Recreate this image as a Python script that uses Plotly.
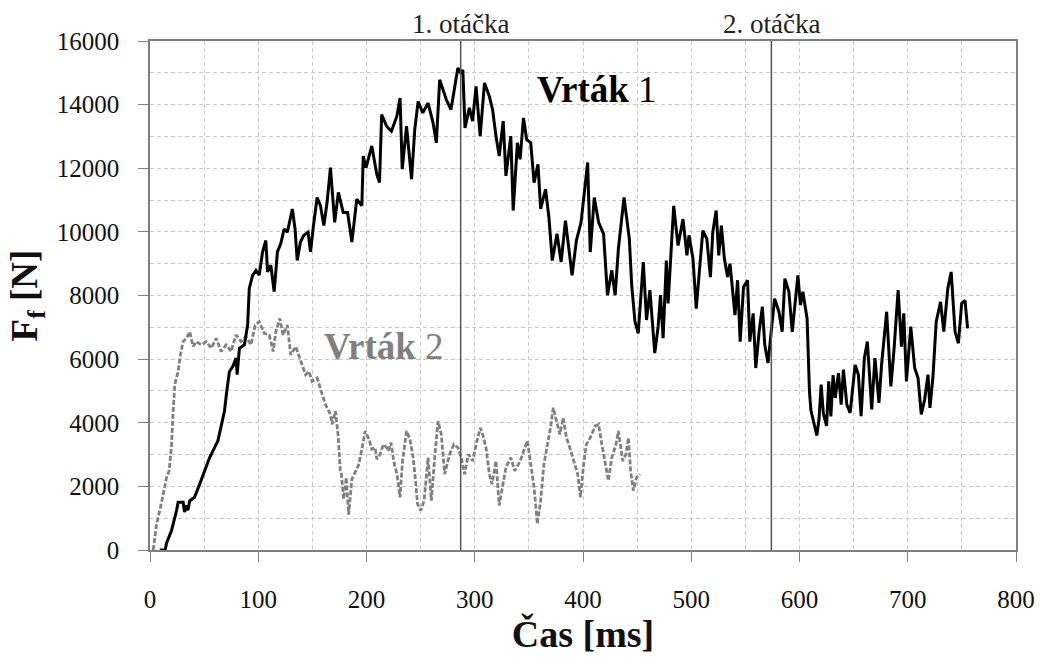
import plotly.graph_objects as go

# ---- data ----
t1 = [9, 14, 15.3, 19.9, 24.5, 26, 30.6, 32, 33.5, 35, 36.7, 41, 45.9, 50.5, 55, 59.6, 62.7, 65.8, 68.8, 70.9,
      73.4, 76.5, 79.5, 80.5, 82.6, 87.2, 90.2, 91.7, 94.8, 97.9, 100.9, 104, 107, 108.6, 111.6, 114.7, 117.7,
      120.8, 123.9, 126.9, 131.5, 134, 136, 139, 142, 146, 148.3, 151, 154.4, 157.5, 160.6, 163.6, 166.7,
      170.6, 174, 178.5, 182.5, 186.5, 191, 195.7, 197, 199.6, 204.9, 209.5, 212, 214, 218.6, 223, 228, 231,
      233, 237, 241.6, 244.6, 247.7, 252, 256.9, 261.5, 264.5, 267.6, 273.7, 278, 281.4, 284.4, 287, 289,
      291, 295, 298, 301.2, 305, 309, 313.5, 316.5, 319.6, 322.6, 326.3, 328.8, 333.3, 335.5, 339.4, 341.9,
      345, 348, 351.7, 354.8, 358.4, 360.9, 365.4, 368.5, 371.6, 376, 379.8, 383.8, 389.9, 393.9, 398.2,
      400.6, 404.3, 406.7, 410.4, 414.4, 419, 422.6, 426.6, 429.7, 432.7, 437.9, 442.8, 445, 448, 451, 453.2,
      455.7, 458.7, 461.8, 466.3, 469.4, 471.6, 474, 477, 478.6, 483.8, 487.8, 492.4, 496, 497.9, 501.6,
      504.6, 507.6, 510.7, 514.4, 517.7, 519.9, 523, 525.4, 527.8, 530.6, 533.6, 535.8, 538.2, 540.4, 542.8,
      545.2, 548.3, 552, 554.1, 557.2, 559.6, 562.7, 565.7, 567.9, 570.9, 573.4, 577, 581, 584, 586.5, 590.2,
      593.3, 598.5, 600.9, 603.1, 607, 609.2, 610.5, 613, 616, 618, 620, 622, 625, 627, 629, 631, 633, 636,
      638.5, 640.6, 643.7, 646.8, 651.4, 654.4, 656.9, 659.9, 662.7, 666.7, 669.7, 673.4, 675.8, 680.5, 684.4,
      687.4, 691.1, 694.2, 696.3, 698.8, 702.8, 706.4, 709.5, 712.5, 715.6, 718.7, 720.5, 723.2, 726.3, 730.3,
      733.3, 737, 740.1, 743.7, 746.8, 749.8, 752.9, 755.3]
f1 = [0, 0, 220, 615, 1240, 1500, 1500, 1190, 1400, 1250, 1550, 1650, 2070, 2490, 2900, 3220, 3430, 3900, 4370, 4990,
      5610, 5770, 6030, 5510, 6340, 6450, 7070, 8220, 8630, 8790, 8640, 9370, 9730, 8740, 8950, 8120, 9370,
      9630, 10090, 9990, 10720, 10090, 9100, 9680, 9890, 9990, 9370, 10200, 11080, 10820, 10200, 10930, 12020,
      10300, 11240, 10610, 10610, 9680, 11030, 10820, 12385, 12020, 12700, 11810, 11550, 13690, 13320, 13165, 13630, 14210,
      11970, 13320, 11656, 13220, 14100, 13740, 14050, 13430, 12800, 14780, 14160, 13840, 14470, 15150, 15000, 15090,
      13270, 13900, 13480, 14570, 13010, 14680, 14260, 13840, 13010, 12385, 13480, 11760, 13010, 10670, 12800, 12280,
      13580, 12900, 12800, 11550, 12125, 10720, 11340, 10460, 9100, 9940, 9050, 10350, 8635, 9730, 10300,
      10980, 12180, 9365, 11080, 10300, 9940, 8010, 8790, 8010, 9470, 11080, 9780, 8320, 7180, 6810, 8010,
      9050, 7230, 8170, 6190, 7020, 8010, 6660, 9100, 7750, 10820, 9570, 10400, 9260, 9890, 9160,
      7590, 8840, 10040, 9780, 8580, 9990, 10670, 9260, 10200, 9160, 8580, 9000, 8115, 7385, 8480,
      6550, 8270, 8480, 6550, 7440, 5720, 6865, 7645, 6450, 5875, 6760, 7900, 7490, 6860, 8530, 8115,
      6860, 8635, 7700, 8115, 7280, 4990, 4400, 4000, 3600, 4100, 5200, 4300, 3900, 5300, 4200, 5500, 4780, 5560,
      4570, 5670, 4570, 4310, 5820, 5510, 4210, 6030, 6550, 4420, 6030, 4625, 5820, 7490, 5145,
      6340, 8170, 6395, 7440, 5300, 7020, 5720, 5405, 4260, 4730, 5510, 4470, 5405, 7180, 7800,
      6865, 8220, 8740, 6865, 6500, 7750, 7850, 6970]

t2 = [3, 6.1, 10.7, 15.3, 17.7, 19.9, 21.4, 22.9, 26, 28.1, 30.6, 33.6, 36.7, 39.8, 42.8, 47.4, 52, 56.6, 61.2,
      65.7, 70.3, 74.9, 79.5, 84.1, 88.7, 93.3, 97.2, 100.9, 105.5, 110.1, 113.8, 116.2, 119.9, 122.9, 126.9,
      130, 134.6, 139.1, 143.7, 146.8, 149.8, 154.4, 156, 159, 162.1, 166.7, 168.2, 171.3, 173.7, 175.8, 176.8,
      178.9, 181.3, 183.5, 186.5, 189.6, 192.7, 195.7, 198.8, 202.4, 204.9, 208, 209.5, 212.5, 214, 215.6,
      218.6, 220.2, 222.6, 225.7, 228.2, 230.9, 233.3, 237, 240.1, 243.1, 245.3, 247.1, 250.2, 253.2, 256.9,
      259.9, 263, 266.1, 269.1, 272.2, 276.8, 280.7, 284.4, 287.5, 290.6, 294.2, 298.2, 301.2, 305.2, 307.3,
      310.4, 313.5, 315.9, 319.6, 322.6, 325.7, 328.8, 333.3, 337, 342, 345.6, 348.6, 351.7, 354.8, 357.8,
      360.9, 363.9, 367.6, 370, 372.5, 375.5, 378.6, 381.7, 384.7, 387.8, 391.5, 395.1, 397.6, 400.6, 403.1,
      406.7, 411.3, 414.4, 417.4, 420.5, 423.5, 426.6, 430.5, 432.7, 436.7, 439.7, 441.9, 444, 446.5, 449.5,
      452.6]
f2 = [0, 820, 1500, 2280, 2490, 3320, 4365, 5200, 5615, 6135, 6550, 6655, 6865, 6395, 6550, 6450, 6550, 6345, 6655,
      6240, 6450, 6240, 6760, 6550, 6710, 6450, 7070, 7180, 6810, 6760, 6240, 6860, 7280, 6760, 7070,
      6135, 6395, 5930, 5510, 5615, 5300, 5405, 5200, 4900, 4570, 4260, 3950, 4365, 3635, 2490, 2385,
      1600, 2280, 1110, 2230, 2450, 2670, 3170, 3740, 3480, 3165, 3220, 2855, 3010, 3165, 3320,
      3220, 3115, 3375, 2700, 2385, 1656, 2800, 3740, 3480, 2905, 2180, 1450, 1240, 1550, 2905,
      1550, 2905, 4050, 3635, 2385, 3010, 3320, 3220, 2905, 2385, 3010, 2800, 3320, 3840, 3635,
      3220, 2385, 2070, 2800, 1395, 1970, 2595, 2905, 2490, 2800, 3115, 3430, 2700, 1970, 820,
      1550, 2700, 3320, 3840, 4470, 4050, 3635, 4155, 3530, 3220, 2800, 2385, 1656, 2700, 3320,
      3530, 3895, 3950, 3320, 2800, 2180, 2905, 3320, 3740, 2800, 3010, 3530, 2490, 1865, 2280,
      2385]

rev_times = [287, 574]
rev_labels = ["1. otáčka", "2. otáčka"]

series_names = ["Vrták 1", "Vrták 2"]
label_pos_x = [413, 216]
label_pos_y = [14470, 6400]

x_ticks = [0, 100, 200, 300, 400, 500, 600, 700, 800]
y_ticks = [0, 2000, 4000, 6000, 8000, 10000, 12000, 14000, 16000]

FONT = "Liberation Serif"
GRID = "#c8c8c8"
AX = "#7f7f7f"

fig = go.Figure()
fig.add_trace(go.Scatter(x=t2, y=f2, mode="lines", name=series_names[1],
                         line=dict(color="#808080", width=2.8, dash="5px,2px")))
fig.add_trace(go.Scatter(x=t1, y=f1, mode="lines", name=series_names[0],
                         line=dict(color="#000000", width=3)))

for t, lab in zip(rev_times, rev_labels):
    fig.add_shape(type="line", x0=t, x1=t, xref="x", y0=0, y1=1, yref="paper",
                  line=dict(color="#555555", width=1.5), layer="above")
    fig.add_annotation(x=t, y=1, xref="x", yref="paper", text=lab, showarrow=False,
                       yanchor="bottom", yshift=0, font=dict(family=FONT, size=27, color="#222222"))

fig.add_annotation(x=label_pos_x[0], y=label_pos_y[0], text="<b>Vrták</b> 1", showarrow=False,
                   font=dict(family=FONT, size=37, color="#000000"))
fig.add_annotation(x=label_pos_x[1], y=label_pos_y[1], text="<b>Vrták</b> 2", showarrow=False,
                   font=dict(family=FONT, size=37, color="#808080"))

fig.update_layout(
    width=1047, height=657,
    margin=dict(l=150, r=25, t=41, b=104),
    paper_bgcolor="white", plot_bgcolor="white",
    showlegend=False,
    font=dict(family=FONT, size=25, color="#111111"),
)
fig.update_xaxes(
    range=[0, 800], tickvals=x_ticks, ticktext=[str(v) for v in x_ticks],
    ticks="outside", ticklen=10, tickcolor=AX, tickwidth=1,
    showline=True, linecolor=AX, linewidth=1.5, mirror=True,
    showgrid=True, gridcolor=GRID, gridwidth=1, griddash="4px,3px",
    minor=dict(dtick=50, tick0=0, showgrid=True, gridcolor=GRID, gridwidth=1, griddash="4px,3px"),
    zeroline=False, ticklabelstandoff=16,
    tickfont=dict(family=FONT, size=25, color="#111111"),
    title=dict(text="<b>Čas [ms]</b>", font=dict(family=FONT, size=38, color="#111111"), standoff=6),
)
fig.update_yaxes(
    range=[0, 16000], tickvals=y_ticks, ticktext=[str(v) for v in y_ticks],
    ticks="outside", ticklen=10, tickcolor=AX, tickwidth=1,
    showline=True, linecolor=AX, linewidth=1.5, mirror=True,
    showgrid=True, gridcolor=GRID, gridwidth=1, griddash="4px,3px",
    minor=dict(dtick=1000, tick0=0, showgrid=True, gridcolor=GRID, gridwidth=1, griddash="4px,3px"),
    zeroline=False, ticklabelstandoff=14,
    tickfont=dict(family=FONT, size=25, color="#111111"),
    title=dict(text="<b>F<sub>f</sub> [N]</b>", font=dict(family=FONT, size=37, color="#111111"), standoff=8),
)

fig.write_html("out.html")
